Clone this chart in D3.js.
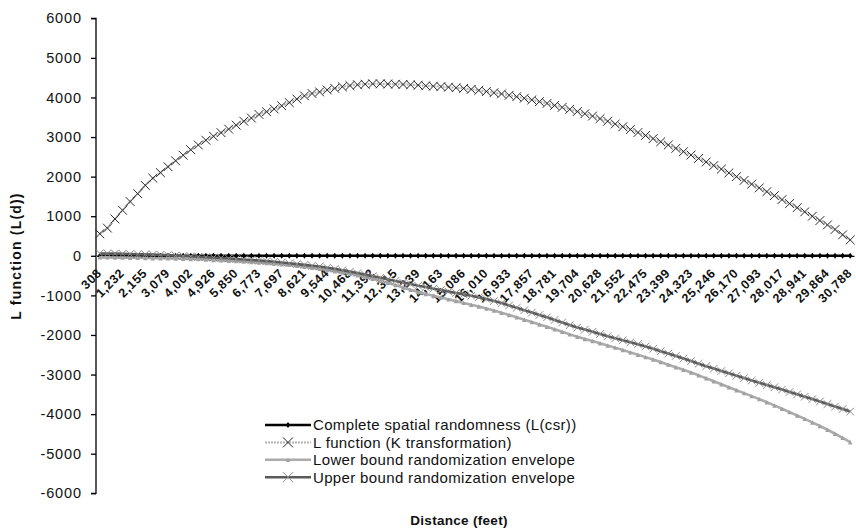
<!DOCTYPE html>
<html><head><meta charset="utf-8">
<script src="https://cdn.jsdelivr.net/npm/d3@7"></script>
<style>
body{margin:0;background:#fff;}
svg{display:block;font-family:"Liberation Sans",Arial,sans-serif;}
</style></head>
<body><svg id="chart" width="856" height="530"></svg>
<script>
// Distance categories (feet)
const categories = [308,616,924,1232,1539,1847,2155,2463,2771,3079,
3387,3695,4002,4310,4618,4926,5234,5542,5850,6158,
6465,6773,7081,7389,7697,8005,8313,8621,8929,9236,
9544,9852,10160,10468,10776,11084,11392,11699,12007,12315,
12623,12931,13239,13547,13855,14163,14470,14778,15086,15394,
15702,16010,16318,16626,16933,17241,17549,17857,18165,18473,
18781,19089,19396,19704,20012,20320,20628,20936,21244,21552,
21860,22167,22475,22783,23091,23399,23707,24015,24323,24630,
24938,25246,25554,25862,26170,26478,26786,27093,27401,27709,
28017,28325,28633,28941,29249,29557,29864,30172,30480,30788];

// Labelled x ticks
const xTickValues = [308,1232,2155,3079,4002,4926,5850,6773,7697,8621,9544,10468,11392,12315,
13239,14163,15086,16010,16933,17857,18781,19704,20628,21552,22475,23399,24323,25246,26170,
27093,28017,28941,29864,30788];

const yTickValues = [6000,5000,4000,3000,2000,1000,0,-1000,-2000,-3000,-4000,-5000,-6000];

// Series
const csr = [0,0,0,0,0,0,0,0,0,0, 0,0,0,0,0,0,0,0,0,0, 0,0,0,0,0,0,0,0,0,0, 0,0,0,0,0,0,0,0,0,0,
0,0,0,0,0,0,0,0,0,0, 0,0,0,0,0,0,0,0,0,0, 0,0,0,0,0,0,0,0,0,0, 0,0,0,0,0,0,0,0,0,0,
0,0,0,0,0,0,0,0,0,0, 0,0,0,0,0,0,0,0,0,0];

const lFunction = [556,700,930,1150,1370,1570,1780,1960,2100,2250,
2400,2540,2680,2800,2920,3020,3110,3200,3300,3400,
3480,3570,3640,3710,3790,3870,3960,4040,4100,4140,
4190,4230,4270,4300,4320,4335,4345,4345,4340,4335,
4330,4320,4310,4295,4285,4275,4260,4245,4230,4205,
4180,4150,4120,4090,4055,4020,3980,3940,3895,3850,
3800,3750,3700,3645,3590,3530,3465,3400,3330,3260,
3190,3115,3040,2960,2880,2800,2715,2630,2545,2460,
2370,2280,2190,2095,2000,1905,1810,1715,1620,1520,
1420,1320,1215,1110,1000,890,780,665,530,400];

const lowerBound = [-40,-40,-45,-45,-50,-50,-55,-60,-60,-65,
-70,-75,-80,-85,-95,-105,-115,-125,-135,-145,
-160,-170,-185,-200,-215,-230,-250,-275,-300,-330,
-360,-390,-420,-455,-490,-530,-580,-630,-680,-740,
-800,-860,-915,-965,-1010,-1055,-1100,-1145,-1190,-1235,
-1280,-1330,-1380,-1440,-1495,-1555,-1615,-1675,-1735,-1795,
-1855,-1920,-1985,-2045,-2100,-2155,-2210,-2265,-2320,-2380,
-2440,-2500,-2560,-2620,-2685,-2750,-2815,-2880,-2950,-3020,
-3095,-3170,-3245,-3320,-3395,-3470,-3545,-3620,-3700,-3780,
-3865,-3950,-4035,-4120,-4210,-4300,-4395,-4495,-4600,-4710];

const upperBound = [60,60,55,50,45,40,35,30,25,15,
5,-5,-15,-25,-35,-45,-55,-65,-80,-95,
-105,-120,-135,-150,-170,-190,-210,-230,-250,-270,
-300,-330,-365,-400,-437,-475,-515,-555,-595,-635,
-675,-715,-755,-790,-830,-865,-905,-940,-975,-1010,
-1050,-1090,-1140,-1195,-1255,-1315,-1375,-1435,-1495,-1555,
-1620,-1685,-1750,-1810,-1865,-1920,-1975,-2030,-2085,-2135,
-2185,-2235,-2290,-2350,-2410,-2470,-2530,-2595,-2660,-2725,
-2790,-2850,-2910,-2970,-3030,-3090,-3150,-3210,-3265,-3320,
-3380,-3440,-3500,-3560,-3620,-3680,-3745,-3810,-3870,-3935];

const seriesNames = ["Complete spatial randomness (L(csr))","L function (K transformation)",
  "Lower bound randomization envelope","Upper bound randomization envelope"];

const svg = d3.select("#chart");
const x = d3.scalePoint().domain(categories).range([96, 854]).padding(0.5);
const y = d3.scaleLinear().domain([-6000, 6000]).range([493.3, 18.3]);

const series = [
  {name: seriesNames[0], values: csr, stroke: "#000", width: 2.6, dash: null, marker: "diamond", mColor: "#000", mSize: 2.2},
  {name: seriesNames[1], values: lFunction, stroke: "#b4b4b4", width: 2, dash: "2,1", marker: "x", mColor: "#2a2a2a", mSize: 4.4},
  {name: seriesNames[2], values: lowerBound, stroke: "#ababab", width: 2.6, dash: null, marker: "tri", mColor: "#a0a0a0", mSize: 2.2},
  {name: seriesNames[3], values: upperBound, stroke: "#5a5a5a", width: 2.6, dash: null, marker: "x", mColor: "#8a8a8a", mSize: 3.8}
];

function drawMarker(g, type, cx, cy, color, s) {
  if (type === "x") {
    g.append("path").attr("d", `M${cx-s},${cy-s}L${cx+s},${cy+s}M${cx-s},${cy+s}L${cx+s},${cy-s}`)
      .attr("stroke", color).attr("stroke-width", 1).attr("fill", "none");
  } else if (type === "diamond") {
    g.append("path").attr("d", `M${cx},${cy-s-0.8}L${cx+s},${cy}L${cx},${cy+s+0.8}L${cx-s},${cy}Z`).attr("fill", color);
  } else {
    g.append("path").attr("d", `M${cx},${cy-s}L${cx+s},${cy+s}L${cx-s},${cy+s}Z`).attr("fill", color);
  }
}

// y axis
const yAxis = d3.axisLeft(y).tickValues(yTickValues).tickSize(5).tickFormat(d => String(d));
const ya = svg.append("g").attr("transform", "translate(96,0)").call(yAxis);
ya.select(".domain").attr("stroke", "#000").attr("stroke-width", 1.3).attr("d", `M-5,${y(6000)}H0V${y(-6000)}H-5`);
ya.selectAll(".tick line").attr("stroke", "#000").attr("stroke-width", 1.3);
ya.selectAll(".tick text").attr("x", -14).attr("font-size", 14.5).attr("letter-spacing", "0.9px")
  .attr("fill", "#111").attr("font-family", "Liberation Sans, Arial, sans-serif");

// x axis at zero
const xAxis = d3.axisBottom(x).tickValues(xTickValues).tickSize(0).tickFormat(d3.format(","));
const xa = svg.append("g").attr("transform", `translate(0,${y(0)})`).call(xAxis);
xa.select(".domain").attr("stroke", "#000").attr("stroke-width", 1.2);
xa.selectAll(".tick text")
  .attr("font-size", 12.5).attr("font-weight", "bold").attr("letter-spacing", "0.6px").attr("fill", "#111")
  .attr("font-family", "Liberation Sans, Arial, sans-serif")
  .attr("text-anchor", "end")
  .attr("transform", "translate(-1,15) rotate(-45)")
  .attr("x", 0).attr("y", 0).attr("dy", "0.35em");

// series
const line = d3.line().x((d, i) => x(categories[i])).y(d => y(d));
series.forEach(s => {
  const g = svg.append("g");
  g.append("path").datum(s.values).attr("d", line).attr("fill", "none")
    .attr("stroke", s.stroke).attr("stroke-width", s.width)
    .attr("stroke-dasharray", s.dash).attr("stroke-linejoin", "round");
  s.values.forEach((v, i) => drawMarker(g, s.marker, x(categories[i]), y(v), s.mColor, s.mSize));
});

// legend
const lg = svg.append("g");
series.forEach((s, k) => {
  const cy = 425 + k * 17.4;
  lg.append("line").attr("x1", 265).attr("x2", 311).attr("y1", cy).attr("y2", cy)
    .attr("stroke", s.stroke).attr("stroke-width", s.width).attr("stroke-dasharray", s.dash);
  drawMarker(lg, s.marker, 288, cy, s.mColor, s.marker === "x" ? 5 : s.mSize);
  lg.append("text").attr("x", 313).attr("y", cy).attr("dy", "0.36em")
    .attr("font-size", 15).attr("letter-spacing", "0.35px").attr("fill", "#111").text(s.name);
});

// axis titles
svg.append("text").attr("x", 459).attr("y", 525).attr("text-anchor", "middle")
  .attr("font-size", 13.5).attr("font-weight", "bold").attr("letter-spacing", "0.3px").attr("fill", "#111").text("Distance (feet)");
svg.append("text").attr("transform", "translate(21,256) rotate(-90)").attr("text-anchor", "middle")
  .attr("font-size", 14).attr("font-weight", "bold").attr("letter-spacing", "1.2px").attr("fill", "#111").text("L function (L(d))");
</script></body></html>
